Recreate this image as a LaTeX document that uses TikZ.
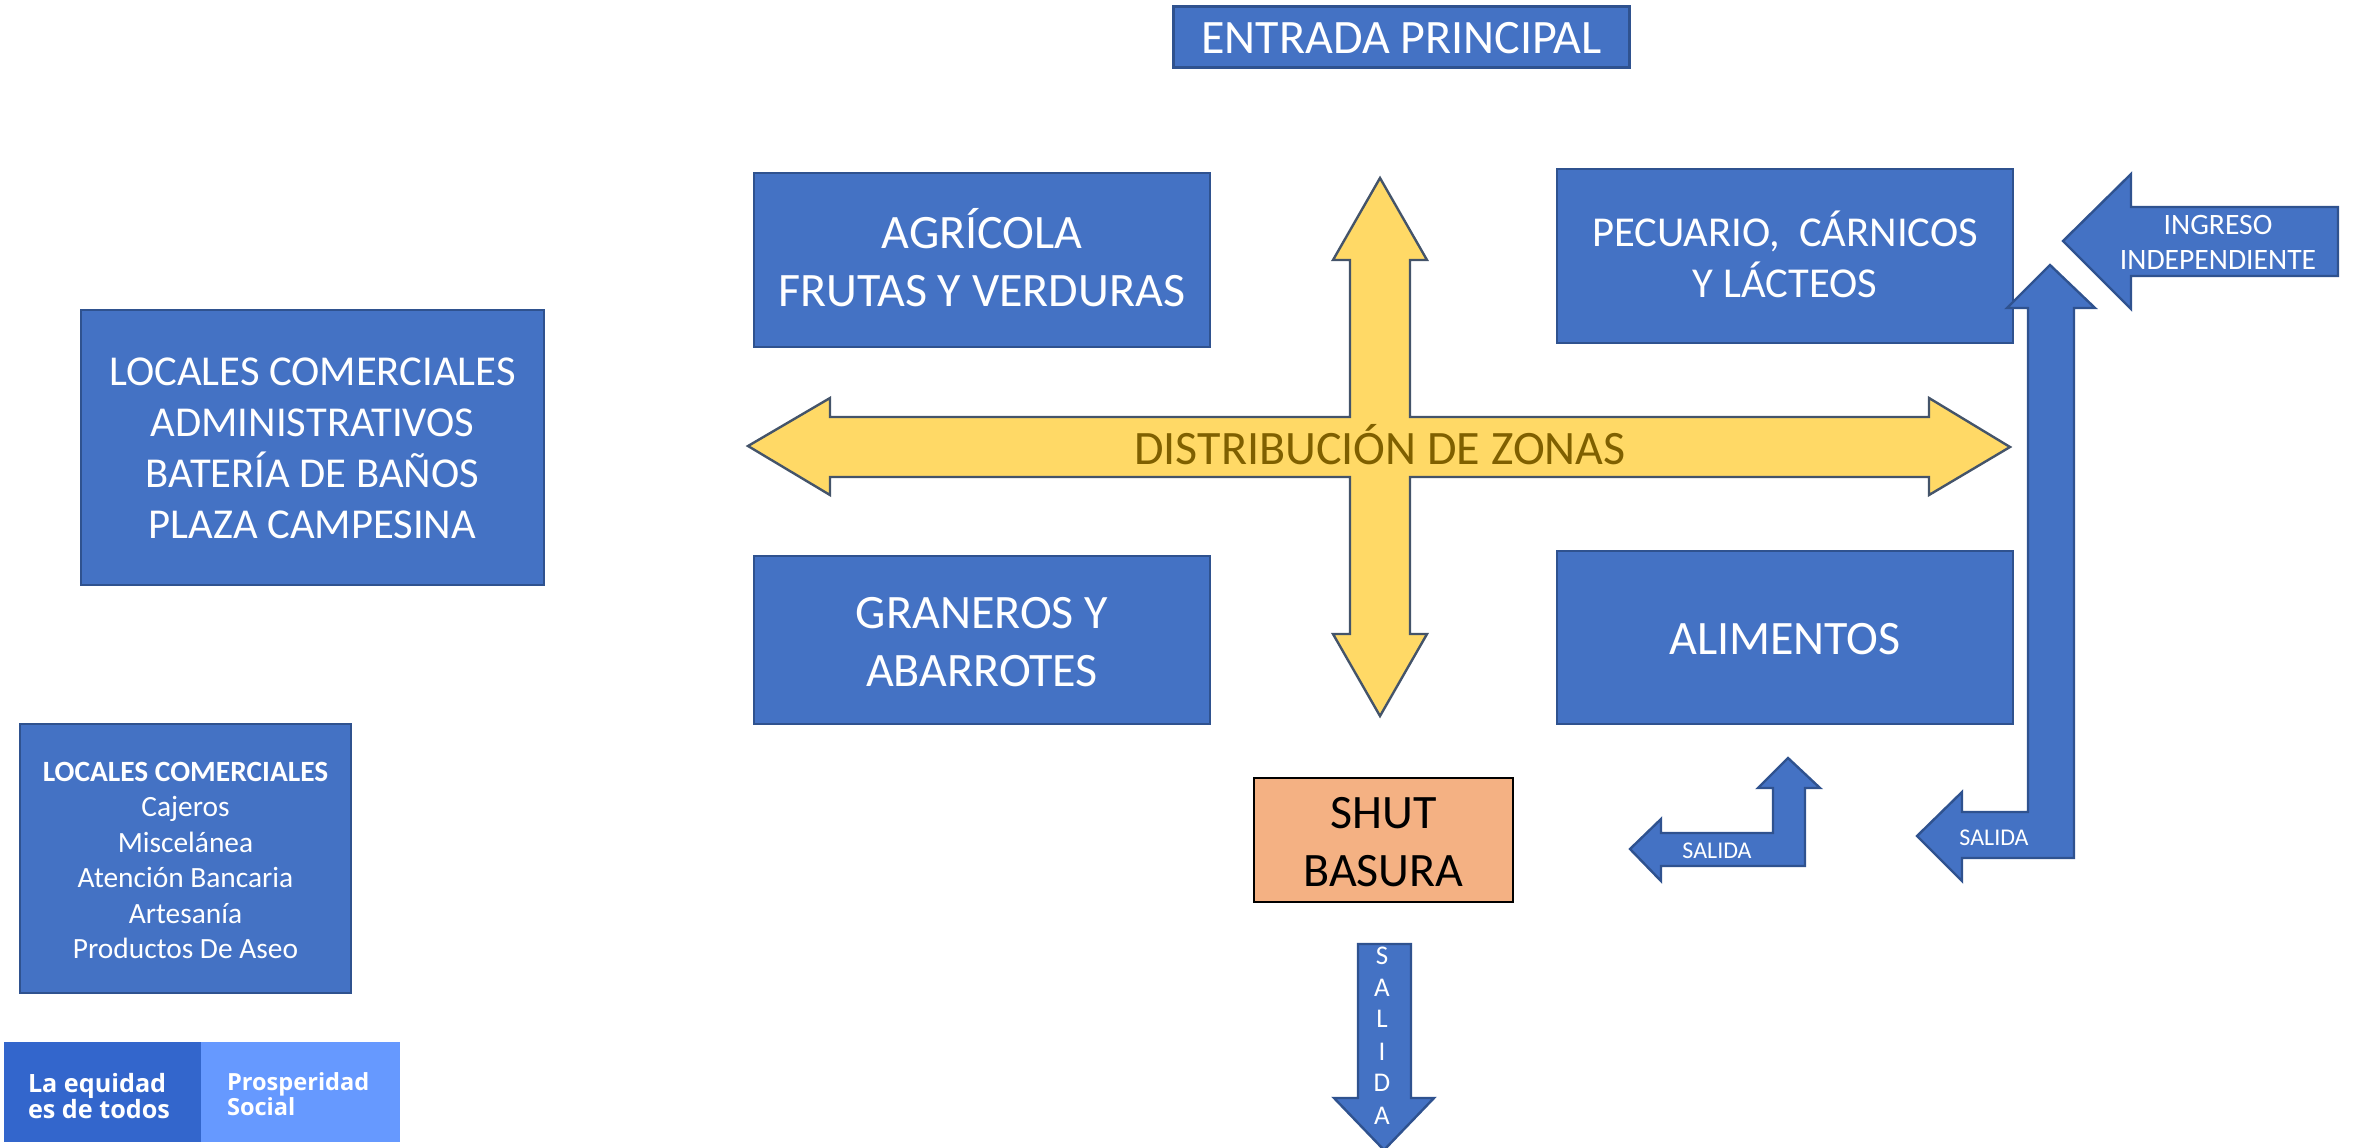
\documentclass[tikz,border=0pt]{standalone}
\usepackage{fontspec}
\setmainfont{Carlito}
\newfontfamily\logofont{Open Sans}
\definecolor{zoneblue}{HTML}{4472C4}
\definecolor{zoneline}{HTML}{2F528F}
\definecolor{pathyellow}{HTML}{FFD966}
\definecolor{pathline}{HTML}{44546A}
\definecolor{pathtext}{HTML}{7F6000}
\definecolor{shutorange}{HTML}{F4B183}
\definecolor{logodark}{HTML}{3366CC}
\definecolor{logolight}{HTML}{6699FF}
\newcommand{\bigtext}{\fontsize{24}{29}\selectfont}
\newcommand{\midtext}{\fontsize{21.3}{25.5}\selectfont}
\newcommand{\listtext}{\fontsize{14.7}{17.7}\selectfont}
\newcommand{\smalltext}{\fontsize{14.8}{17.5}\selectfont}
\newcommand{\lettertext}{\fontsize{13.5}{16}\selectfont}
\newcommand{\tinytext}{\fontsize{12}{14}\selectfont}
\newcommand{\lift}[1]{\rule[-#1]{0pt}{0pt}}
\newcommand{\drop}[1]{\rule{0pt}{#1}}
\begin{document}
\begin{tikzpicture}[x=0.5pt, y=-0.5pt]
\tikzstyle{every node}=[align=center, inner sep=0pt, outer sep=0pt]
\tikzstyle{zonebox}=[draw=zoneline, fill=zoneblue, line width=1.4pt, text=white]
\tikzstyle{exitarrow}=[draw=zoneline, fill=zoneblue, line width=1.2pt, miter limit=10]
\useasboundingbox (0,0) rectangle (2354,1147);
% entrance
  \node[zonebox, minimum width=228pt, minimum height=30.5pt, font=\bigtext] (entrada) at (1401.5,37) {\drop{16.5pt}ENTRADA PRINCIPAL};
% zones
  \node[zonebox, minimum width=228pt, minimum height=87pt, font=\bigtext] (agricola) at (982,260) {AGRÍCOLA \\ FRUTAS Y VERDURAS\lift{3pt}};
  \node[zonebox, minimum width=228pt, minimum height=87pt, font=\midtext] (pecuario) at (1785,256) {PECUARIO,\ \ CÁRNICOS \\ Y LÁCTEOS\lift{1.5pt}};
  \node[zonebox, minimum width=228pt, minimum height=84pt, font=\bigtext] (graneros) at (982,640) {\drop{17.5pt}GRANEROS Y \\ ABARROTES};
  \node[zonebox, minimum width=228pt, minimum height=86.5pt, font=\bigtext] (alimentos) at (1785,637.5) {\drop{17pt}ALIMENTOS};
% shops
  \node[zonebox, minimum width=231.5pt, minimum height=137.5pt, font=\midtext] (locales) at (312.5,447.5) {\drop{15pt}LOCALES COMERCIALES \\ ADMINISTRATIVOS \\ BATERÍA DE BAÑOS \\ PLAZA CAMPESINA};
  \node[zonebox, minimum width=165.5pt, minimum height=134.5pt, font=\listtext] (comercio) at (185.5,858.5) {\drop{11.5pt}\textbf{LOCALES COMERCIALES} \\ Cajeros \\ Miscelánea \\ Atención Bancaria \\ Artesanía \\ Productos De Aseo};
% distribution cross
  \draw[draw=pathline, fill=pathyellow, line width=1.2pt] (1380,178) -- (1427,260) -- (1410,260) -- (1410,417) -- (1929,417) -- (1929,398) -- (2010,447) -- (1929,495) -- (1929,477) -- (1410,477) -- (1410,634) -- (1427,634) -- (1380,716) -- (1333,634) -- (1350,634) -- (1350,477) -- (830,477) -- (830,495) -- (748,446) -- (830,398) -- (830,417) -- (1350,417) -- (1350,260) -- (1333,260) -- cycle;
  \node[font=\bigtext, text=pathtext] (distribucion) at (1380,445) {DISTRIBUCIÓN DE ZONAS};
% garbage
  \node[draw=black, fill=shutorange, line width=1.4pt, minimum width=129.5pt, minimum height=62pt, font=\bigtext] (shut) at (1383.5,840) {\drop{18pt}SHUT \\ BASURA};
% independent entrance
  \draw[exitarrow] (2063,241) -- (2131,174) -- (2131,207) -- (2338,207) -- (2338,276) -- (2131,276) -- (2131,309) -- cycle;
  \node[font=\smalltext, text=white] (ingreso) at (2218,242) {INGRESO \\ INDEPENDIENTE};
% long exit
  \draw[exitarrow] (2050,265) -- (2095,308) -- (2074,308) -- (2074,858) -- (1962,858) -- (1962,881) -- (1917,836) -- (1962,792) -- (1962,812) -- (2028,812) -- (2028,308) -- (2007,308) -- cycle;
  \node[font=\tinytext, text=white] (salidalarga) at (1994,838) {SALIDA};
% short exit
  \draw[exitarrow] (1788,758) -- (1820,788) -- (1805,788) -- (1805,866) -- (1661,866) -- (1661,881) -- (1630,849) -- (1661,819) -- (1661,833) -- (1773,833) -- (1773,788) -- (1758,788) -- cycle;
  \node[font=\tinytext, text=white] (salidacorta) at (1717,851) {SALIDA};
% down exit
  \draw[exitarrow] (1358,944) -- (1411,944) -- (1411,1098) -- (1434,1098) -- (1384,1150) -- (1334,1098) -- (1358,1098) -- cycle;
  \foreach \letra/\posy/\nombre in {S/956/a, A/988/b, L/1019/c, I/1052/d, D/1083/e, A/1116/f}
    \node[font=\lettertext, text=white] (salida\nombre) at (1382,\posy) {\letra};
% logo
  \node[fill=logodark, minimum width=98.5pt, minimum height=50pt, anchor=north west] (equidadbox) at (4,1042) {};
  \node[fill=logolight, minimum width=99.25pt, minimum height=50pt, anchor=north west] (prosperidadbox) at (201,1042) {};
  \node[font=\logofont\bfseries\fontsize{12.6}{12.8}\selectfont, text=white, align=left, anchor=west] (equidad) at (28,1096) {La equidad \\ es de todos};
  \node[font=\logofont\bfseries\fontsize{11.8}{12.8}\selectfont, text=white, align=left, anchor=west] (prosperidad) at (227,1094) {Prosperidad \\ Social};
\end{tikzpicture}
\end{document}
